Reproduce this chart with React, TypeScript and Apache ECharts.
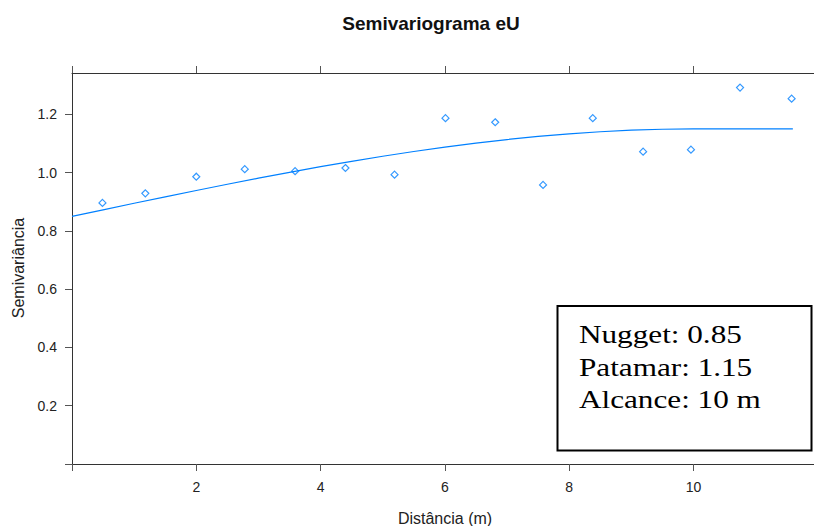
import React, { useEffect, useRef } from "react";
import * as echarts from "echarts";

// Empirical semivariogram (lag distance, semivariance)
const lagDist = [0.49, 1.18, 2.0, 2.78, 3.59, 4.4, 5.19, 6.01, 6.81, 7.58, 8.38, 9.19, 9.96, 10.75, 11.58];
const semivar = [0.896, 0.929, 0.986, 1.012, 1.005, 1.016, 0.993, 1.187, 1.173, 0.958, 1.187, 1.072, 1.079, 1.292, 1.254];

// Fitted model curve
const curveDist = [0, 0.5, 1, 1.5, 2, 2.5, 3, 3.5, 4, 4.5, 5, 5.5, 6, 6.5, 7, 7.5, 8, 8.5, 9, 9.5, 10, 10.5, 11, 11.6];
const curveGamma = [0.85, 0.8725, 0.8949, 0.917, 0.9388, 0.9602, 0.981, 1.0011, 1.0204, 1.0388, 1.0563, 1.0725, 1.0876, 1.1013, 1.1136, 1.1242, 1.1332, 1.1404, 1.1457, 1.1489, 1.15, 1.15, 1.15, 1.15];

const xTicks = [0, 2, 4, 6, 8, 10];
const xLabels = [2, 4, 6, 8, 10];
const yTicks = [0, 0.2, 0.4, 0.6, 0.8, 1.0, 1.2];
const yLabels = [0.2, 0.4, 0.6, 0.8, 1.0, 1.2];

const titleText = "Semivariograma eU";
const xName = "Distância (m)";
const yName = "Semivariância";
const boxLines = ["Nugget: 0.85", "Patamar: 1.15", "Alcance: 10 m"];

export default function App() {
  const ref = useRef<HTMLDivElement>(null);
  useEffect(() => {
    if (!ref.current) return;
    const chart = echarts.init(ref.current, undefined, { renderer: "svg" });
    const axisColor = "#333";
    const labelColor = "#222";
    const sans = "Arial, 'Liberation Sans', sans-serif";
    const serif = "'Times New Roman', 'Liberation Serif', serif";
    const baseX = {
      type: "value" as const,
      min: 0,
      max: 11.94,
      splitLine: { show: false },
      axisLine: { show: true, onZero: false, lineStyle: { color: axisColor, width: 1 } },
    };
    chart.setOption({
      animation: false,
      backgroundColor: "#fff",
      grid: { left: 72, right: 0, top: 73, bottom: 62, containLabel: false },
      xAxis: [
        {
          ...baseX,
          position: "bottom",
          axisTick: { show: true, length: 7, customValues: xTicks, lineStyle: { color: "#555" } },
          axisLabel: {
            show: true,
            customValues: xLabels,
            margin: 16,
            fontSize: 14,
            fontFamily: sans,
            color: labelColor,
          },
        },
        {
          ...baseX,
          position: "top",
          axisTick: { show: true, length: 7, customValues: xTicks, lineStyle: { color: "#555" } },
          axisLabel: { show: false },
        },
      ],
      yAxis: {
        type: "value",
        min: 0,
        max: 1.342,
        splitLine: { show: false },
        axisLine: { show: true, onZero: false, lineStyle: { color: axisColor, width: 1 } },
        axisTick: { show: true, length: 7, customValues: yTicks, lineStyle: { color: "#555" } },
        axisLabel: {
          show: true,
          customValues: yLabels,
          margin: 15,
          fontSize: 14,
          fontFamily: sans,
          color: labelColor,
          formatter: (v: number) => v.toFixed(1),
        },
      },
      series: [
        {
          type: "line",
          data: curveDist.map((d, i) => [d, curveGamma[i]]),
          showSymbol: false,
          smooth: false,
          lineStyle: { color: "#0080ff", width: 1.2 },
          silent: true,
          z: 2,
        },
        {
          type: "scatter",
          data: lagDist.map((d, i) => [d, semivar[i]]),
          symbol: "diamond",
          symbolSize: 7,
          itemStyle: { color: "rgba(0,0,0,0)", borderColor: "#0080ff", borderWidth: 1.2 },
          z: 3,
        },
      ],
      graphic: [
        {
          type: "text",
          x: 431,
          y: 23,
          style: {
            text: titleText,
            font: `bold 19px ${sans}`,
            fill: "#111",
            align: "center",
            verticalAlign: "middle",
          },
        },
        {
          type: "text",
          x: 445,
          y: 518,
          style: {
            text: xName,
            font: `16px ${sans}`,
            fill: labelColor,
            align: "center",
            verticalAlign: "middle",
          },
        },
        {
          type: "text",
          x: 18,
          y: 268,
          rotation: Math.PI / 2,
          style: {
            text: yName,
            font: `16px ${sans}`,
            fill: labelColor,
            align: "center",
            verticalAlign: "middle",
          },
        },
        {
          type: "rect",
          shape: { x: 557.5, y: 306, width: 254, height: 144.5 },
          style: { fill: "#fff", stroke: "#000", lineWidth: 2 },
          z: 10,
        },
        ...boxLines.map((t, i) => ({
          type: "text",
          x: 579,
          y: 334 + i * 32.5,
          scaleX: 1.2,
          z: 11,
          style: {
            text: t,
            font: `26px ${serif}`,
            fill: "#000",
            align: "left",
            verticalAlign: "middle",
          },
        })),
      ],
    });
    return () => chart.dispose();
  }, []);
  return (
    <div
      ref={ref}
      style={{ position: "fixed", left: 0, top: 0, width: 814, height: 526 }}
    />
  );
}
